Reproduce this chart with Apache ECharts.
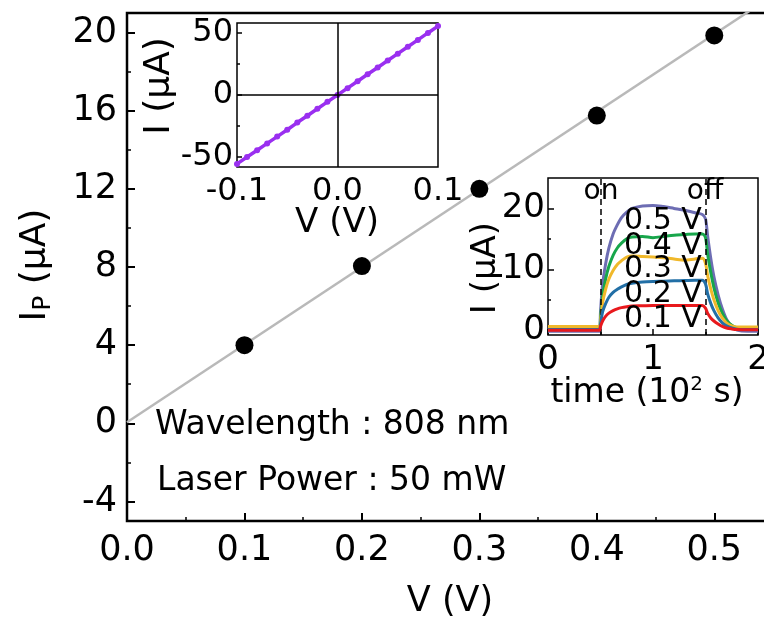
<!DOCTYPE html>
<html>
<head>
<meta charset="utf-8">
<script src="https://cdn.jsdelivr.net/npm/echarts@6/dist/echarts.min.js"></script>
<style>html,body{margin:0;padding:0;background:#fff;overflow:hidden;}#c{width:790px;height:618px;}</style>
</head>
<body>
<div id="c"></div>
<script>
// ---- main plot data ----
const mainV = [0.1, 0.2, 0.3, 0.4, 0.5];
const mainI = [4.0, 8.05, 12.0, 15.75, 19.85];
const fitV = [0, 0.55];
const fitI = [0.05, 21.9];
const mainXTicks = [0, 0.1, 0.2, 0.3, 0.4, 0.5];
const mainXMinor = [0.05, 0.15, 0.25, 0.35, 0.45];
const mainYTicks = [-4, 0, 4, 8, 12, 16, 20];
const mainYMinor = [-2, 2, 6, 10, 14, 18];

// ---- inset 1: I-V curve ----
const ivV = [-0.1, -0.09, -0.08, -0.07, -0.06, -0.05, -0.04, -0.03, -0.02, -0.01, 0,
             0.01, 0.02, 0.03, 0.04, 0.05, 0.06, 0.07, 0.08, 0.09, 0.1];
const ivI = [-55.5, -50, -44.5, -39, -33.5, -28, -22.2, -16.7, -11.1, -5.5, 0,
             5.5, 11.1, 16.7, 22.2, 27.8, 33.3, 38.9, 44.4, 50, 55.5];
const ivXTicks = [-0.1, 0, 0.1];
const ivYTicks = [-50, 0, 50];
const ivYMinor = [-25, 25];

// ---- inset 2: time response ----
const timeT = [0, 0.1, 0.2, 0.3, 0.4, 0.49, 0.5, 0.52, 0.55, 0.58, 0.62, 0.66, 0.7, 0.75, 0.8, 0.9,
               1.0, 1.1, 1.2, 1.3, 1.4, 1.47, 1.5, 1.52, 1.55, 1.58, 1.62, 1.66, 1.7, 1.75, 1.8, 1.9, 2.0];
const i05 = [-0.2, -0.2, -0.2, -0.2, -0.2, -0.2, 3.0, 7.5, 11.0, 13.5, 15.8, 17.3, 18.5, 19.4, 20.0, 20.4,
             20.5, 20.3, 20.0, 19.7, 19.3, 19.0, 18.3, 15.5, 11.8, 8.8, 5.8, 3.5, 1.8, 0.6, 0.0, -0.2, -0.2];
const i04 = [0.1, 0.1, 0.1, 0.1, 0.1, 0.1, 2.0, 5.5, 8.5, 10.5, 12.3, 13.5, 14.3, 15.0, 15.3, 15.4,
             15.2, 15.4, 15.6, 15.7, 15.8, 15.8, 15.2, 12.5, 9.5, 7.0, 4.5, 2.8, 1.6, 0.8, 0.4, 0.3, 0.3];
const i03 = [0.6, 0.6, 0.6, 0.6, 0.6, 0.6, 1.5, 4.5, 6.8, 8.4, 9.8, 10.8, 11.4, 12.0, 12.2, 12.1,
             12.0, 11.9, 11.7, 11.5, 11.7, 11.8, 11.0, 9.0, 6.8, 5.0, 3.2, 2.0, 1.2, 0.7, 0.5, 0.5, 0.5];
const i02 = [0.1, 0.1, 0.1, 0.1, 0.1, 0.1, 1.0, 3.0, 4.4, 5.4, 6.2, 6.7, 7.1, 7.5, 7.7, 7.9,
             8.0, 8.05, 8.1, 8.15, 8.2, 8.2, 7.6, 6.0, 4.4, 3.2, 2.0, 1.2, 0.7, 0.35, 0.15, 0.1, 0.1];
const i01 = [0.0, 0.0, 0.0, 0.0, 0.0, 0.0, 0.6, 1.5, 2.3, 2.8, 3.2, 3.5, 3.7, 3.85, 3.95, 4.0,
             4.05, 4.05, 4.05, 4.05, 4.05, 4.05, 3.6, 2.8, 2.0, 1.5, 1.0, 0.6, 0.35, 0.2, 0.1, 0.05, 0.05];
const trXTicks = [0, 1, 2];
const trXMinor = [0.5, 1.5];
const trYTicks = [0, 10, 20];
const trYMinor = [5, 15];
const switchTimes = [0.5, 1.5];
const voltLabels = ['0.5 V', '0.4 V', '0.3 V', '0.2 V', '0.1 V'];

const FONT = 'DejaVu Sans';
const pair = (xs, ys) => xs.map((x, i) => [x, ys[i]]);

function axisBase(extra) {
  return Object.assign({
    type: 'value',
    axisLine: { show: false, onZero: false },
    splitLine: { show: false },
    axisTick: { show: true, inside: true, length: 8, lineStyle: { color: '#000', width: 2 } },
    axisLabel: { color: '#000', fontFamily: FONT, fontSize: 35 }
  }, extra);
}
function minorAxis(extra, vals, len) {
  return Object.assign({
    type: 'value',
    axisLine: { show: false, onZero: false },
    splitLine: { show: false },
    axisLabel: { show: false },
    axisTick: { show: true, inside: true, length: len, customValues: vals, lineStyle: { color: '#000', width: 1.5 } }
  }, extra);
}

const chart = echarts.init(document.getElementById('c'), null, { renderer: 'canvas' });

const option = {
  backgroundColor: '#fff',
  animation: false,
  grid: [
    { left: 127, top: 13, width: 646, height: 508, show: true, borderColor: '#000', borderWidth: 2.5, backgroundColor: 'transparent' },
    { left: 237, top: 23, width: 201, height: 144, show: true, borderColor: '#000', borderWidth: 1.5, backgroundColor: '#fff' },
    { left: 548, top: 178, width: 210, height: 157, show: true, borderColor: '#000', borderWidth: 1.5, backgroundColor: '#fff' }
  ],
  xAxis: [
    axisBase({ gridIndex: 0, min: 0, max: 0.55, position: 'bottom',
      axisTick: { show: true, inside: true, length: 8, customValues: mainXTicks, lineStyle: { color: '#000', width: 2 } },
      axisLabel: { color: '#000', fontFamily: FONT, fontSize: 35, margin: 12, customValues: mainXTicks, formatter: v => v.toFixed(1) } }),
    minorAxis({ gridIndex: 0, min: 0, max: 0.55, position: 'bottom' }, mainXMinor, 4),
    axisBase({ gridIndex: 1, min: -0.1, max: 0.1, position: 'bottom',
      axisTick: { show: false },
      axisLabel: { color: '#000', fontFamily: FONT, fontSize: 32, margin: 9, customValues: ivXTicks, formatter: v => v.toFixed(1) } }),
    axisBase({ gridIndex: 2, min: 0, max: 2, position: 'bottom',
      axisTick: { show: true, inside: true, length: 6, customValues: trXTicks, lineStyle: { color: '#000', width: 1.5 } },
      axisLabel: { color: '#000', fontFamily: FONT, fontSize: 34, margin: 8, customValues: trXTicks } }),
    minorAxis({ gridIndex: 2, min: 0, max: 2, position: 'bottom' }, trXMinor, 3)
  ],
  yAxis: [
    axisBase({ gridIndex: 0, min: -5, max: 21, position: 'left',
      axisTick: { show: true, inside: true, length: 8, customValues: mainYTicks, lineStyle: { color: '#000', width: 2 } },
      axisLabel: { color: '#000', fontFamily: FONT, fontSize: 35, margin: 10, customValues: mainYTicks } }),
    minorAxis({ gridIndex: 0, min: -5, max: 21, position: 'left' }, mainYMinor, 4),
    axisBase({ gridIndex: 1, min: -58, max: 58, position: 'left',
      axisTick: { show: true, inside: true, length: 5, customValues: ivYTicks, lineStyle: { color: '#000', width: 1.5 } },
      axisLabel: { color: '#000', fontFamily: FONT, fontSize: 32, margin: 4, customValues: ivYTicks } }),
    minorAxis({ gridIndex: 1, min: -58, max: 58, position: 'left' }, ivYMinor, 3),
    axisBase({ gridIndex: 2, min: -0.8, max: 25, position: 'left',
      axisTick: { show: true, inside: true, length: 6, customValues: trYTicks, lineStyle: { color: '#000', width: 1.5 } },
      axisLabel: { color: '#000', fontFamily: FONT, fontSize: 34, margin: 3, customValues: trYTicks } }),
    minorAxis({ gridIndex: 2, min: -0.8, max: 25, position: 'left' }, trYMinor, 3)
  ],
  series: [
    { type: 'line', name: 'fit', xAxisIndex: 0, yAxisIndex: 0, data: pair(fitV, fitI), showSymbol: false,
      lineStyle: { color: '#b9b9b9', width: 2.5 }, z: 1, silent: true },
    { type: 'scatter', name: 'Ip', xAxisIndex: 0, yAxisIndex: 0, data: pair(mainV, mainI), symbolSize: 18,
      itemStyle: { color: '#000', opacity: 1 }, z: 3 },
    { type: 'line', name: 'axes0', xAxisIndex: 2, yAxisIndex: 2, data: [], z: 1, silent: true,
      markLine: { silent: true, symbol: 'none', label: { show: false }, animation: false,
        lineStyle: { color: '#000', width: 1.5, type: 'solid' }, data: [{ xAxis: 0 }, { yAxis: 0 }] } },
    { type: 'line', name: 'IV', xAxisIndex: 2, yAxisIndex: 2, data: pair(ivV, ivI), symbol: 'circle', symbolSize: 6,
      itemStyle: { color: '#9a2ff0' }, lineStyle: { color: '#9a2ff0', width: 3.5 }, z: 3 },
    { type: 'line', name: 'switch', xAxisIndex: 3, yAxisIndex: 4, data: [], z: 1, silent: true,
      markLine: { silent: true, symbol: 'none', label: { show: false }, animation: false,
        lineStyle: { color: '#000', width: 1.5, type: [6, 4] }, data: switchTimes.map(t => ({ xAxis: t })) } },
    { type: 'line', name: '0.5 V', xAxisIndex: 3, yAxisIndex: 4, data: pair(timeT, i05), showSymbol: false, smooth: 0.3,
      lineStyle: { color: '#6d6db3', width: 3 }, z: 2 },
    { type: 'line', name: '0.4 V', xAxisIndex: 3, yAxisIndex: 4, data: pair(timeT, i04), showSymbol: false, smooth: 0.3,
      lineStyle: { color: '#17a64b', width: 3 }, z: 3 },
    { type: 'line', name: '0.3 V', xAxisIndex: 3, yAxisIndex: 4, data: pair(timeT, i03), showSymbol: false, smooth: 0.3,
      lineStyle: { color: '#f0b82a', width: 3 }, z: 4 },
    { type: 'line', name: '0.2 V', xAxisIndex: 3, yAxisIndex: 4, data: pair(timeT, i02), showSymbol: false, smooth: 0.3,
      lineStyle: { color: '#226fa6', width: 3 }, z: 5 },
    { type: 'line', name: '0.1 V', xAxisIndex: 3, yAxisIndex: 4, data: pair(timeT, i01), showSymbol: false, smooth: 0.3,
      lineStyle: { color: '#e8191d', width: 3 }, z: 6 }
  ],
  graphic: [
    { type: 'text', x: 450, y: 602, z: 10, style: { text: 'V (V)', font: '35px "DejaVu Sans"', fill: '#000', textAlign: 'center', textVerticalAlign: 'middle' } },
    { type: 'text', x: 36, y: 265, rotation: Math.PI / 2, z: 10, style: { text: '{a|I}{b|P}{a| (μA)}', textAlign: 'center', textVerticalAlign: 'middle', fill: '#000',
        rich: { a: { fontFamily: FONT, fontSize: 36, fill: '#000' }, b: { fontFamily: FONT, fontSize: 25, fill: '#000', padding: [14, 0, 0, 0] } } } },
    { type: 'text', x: 155, y: 425, z: 10, style: { text: 'Wavelength : 808 nm', font: '33px "DejaVu Sans"', fill: '#000', textAlign: 'left', textVerticalAlign: 'middle' } },
    { type: 'text', x: 157, y: 481, z: 10, style: { text: 'Laser Power : 50 mW', font: '33px "DejaVu Sans"', fill: '#000', textAlign: 'left', textVerticalAlign: 'middle' } },
    { type: 'text', x: 337, y: 223, z: 10, style: { text: 'V (V)', font: '34px "DejaVu Sans"', fill: '#000', textAlign: 'center', textVerticalAlign: 'middle' } },
    { type: 'text', x: 160, y: 86, rotation: Math.PI / 2, z: 10, style: { text: 'I (μA)', font: '36px "DejaVu Sans"', fill: '#000', textAlign: 'center', textVerticalAlign: 'middle' } },
    { type: 'text', x: 486, y: 268, rotation: Math.PI / 2, z: 10, style: { text: 'I (μA)', font: '34px "DejaVu Sans"', fill: '#000', textAlign: 'center', textVerticalAlign: 'middle' } },
    { type: 'text', x: 647, y: 393, z: 10, style: { text: 'time (10{s|2} s)', textAlign: 'center', textVerticalAlign: 'middle', fill: '#000',
        rich: { s: { fontFamily: FONT, fontSize: 20, padding: [0, 0, 16, 0] } }, fontFamily: FONT, fontSize: 33 } },
    { type: 'text', x: 601, y: 192, z: 10, style: { text: 'on', font: '28px "DejaVu Sans"', fill: '#000', textAlign: 'center', textVerticalAlign: 'middle' } },
    { type: 'text', x: 705, y: 192, z: 10, style: { text: 'off', font: '28px "DejaVu Sans"', fill: '#000', textAlign: 'center', textVerticalAlign: 'middle' } },
    { type: 'text', x: 663, y: 221, z: 10, style: { text: voltLabels[0], font: '30px "DejaVu Sans"', fill: '#000', textAlign: 'center', textVerticalAlign: 'middle' } },
    { type: 'text', x: 663, y: 246, z: 10, style: { text: voltLabels[1], font: '30px "DejaVu Sans"', fill: '#000', textAlign: 'center', textVerticalAlign: 'middle' } },
    { type: 'text', x: 663, y: 269, z: 10, style: { text: voltLabels[2], font: '30px "DejaVu Sans"', fill: '#000', textAlign: 'center', textVerticalAlign: 'middle' } },
    { type: 'text', x: 663, y: 294, z: 10, style: { text: voltLabels[3], font: '30px "DejaVu Sans"', fill: '#000', textAlign: 'center', textVerticalAlign: 'middle' } },
    { type: 'text', x: 663, y: 319, z: 10, style: { text: voltLabels[4], font: '30px "DejaVu Sans"', fill: '#000', textAlign: 'center', textVerticalAlign: 'middle' } }
  ]
};
chart.setOption(option);
</script>
</body>
</html>
